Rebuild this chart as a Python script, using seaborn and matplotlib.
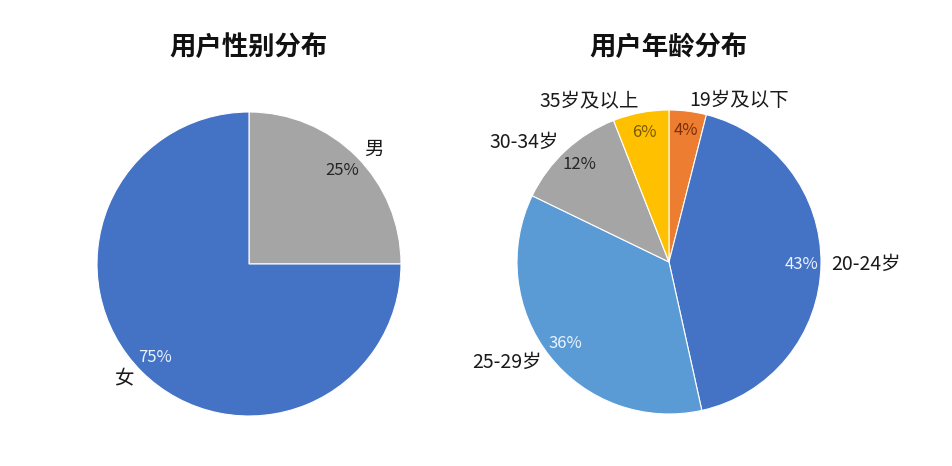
import matplotlib
matplotlib.use("Agg")
import numpy as np
import matplotlib.pyplot as plt
import seaborn as sns

# ---- data ----
gender_labels = ["男", "女"]
gender_values = [25, 75]
gender_colors = ["#A5A5A5", "#4472C4"]
gender_pct_colors = ["#262626", "#EAF4FF"]

age_labels = ["19岁及以下", "20-24岁", "25-29岁", "30-34岁", "35岁及以上"]
age_values = [4, 43, 36, 12, 6]
age_colors = ["#ED7D31", "#4472C4", "#5B9BD5", "#A5A5A5", "#FFC000"]
age_pct_colors = ["#7A2E0A", "#EAF4FF", "#EAF4FF", "#262626", "#7A5A00"]

titles = ["用户性别分布", "用户年龄分布"]

sns.set_theme(style="white")
plt.rcParams["font.family"] = ["Noto Sans CJK SC", "DejaVu Sans"]

W, H = 953, 466
fig = plt.figure(figsize=(W / 100, H / 100), dpi=100)
ax = fig.add_axes([0, 0, 1, 1])

R = 152
centers = [(249, H - 264), (669, H - 262)]
datasets = [
    (gender_labels, gender_values, gender_colors, gender_pct_colors),
    (age_labels, age_values, age_colors, age_pct_colors),
]

for (labels, values, colors, pcolors), c, title in zip(datasets, centers, titles):
    wedges, texts, autotexts = ax.pie(
        values,
        labels=labels,
        colors=colors,
        startangle=90,
        counterclock=False,
        center=c,
        radius=R,
        autopct=lambda p: f"{p:.0f}%",
        pctdistance=0.87,
        labeldistance=1.07,
        wedgeprops=dict(edgecolor="white", linewidth=0.8),
        textprops=dict(fontsize=14, color="#1a1a1a"),
        frame=True,
    )
    for w, t in zip(wedges, texts):
        mid = np.deg2rad((w.theta1 + w.theta2) / 2)
        t.set_ha("left" if np.cos(mid) >= 0 else "right")
    for t, col in zip(autotexts, pcolors):
        t.set_color(col)
        t.set_fontsize(12)
    ax.text(c[0], H - 47, title, ha="center", va="center",
            fontsize=19, fontweight="bold", color="#111111")

ax.set_xlim(0, W)
ax.set_ylim(0, H)
ax.set_aspect("equal")
ax.axis("off")

fig.savefig("out.png", dpi=100, facecolor="white")
